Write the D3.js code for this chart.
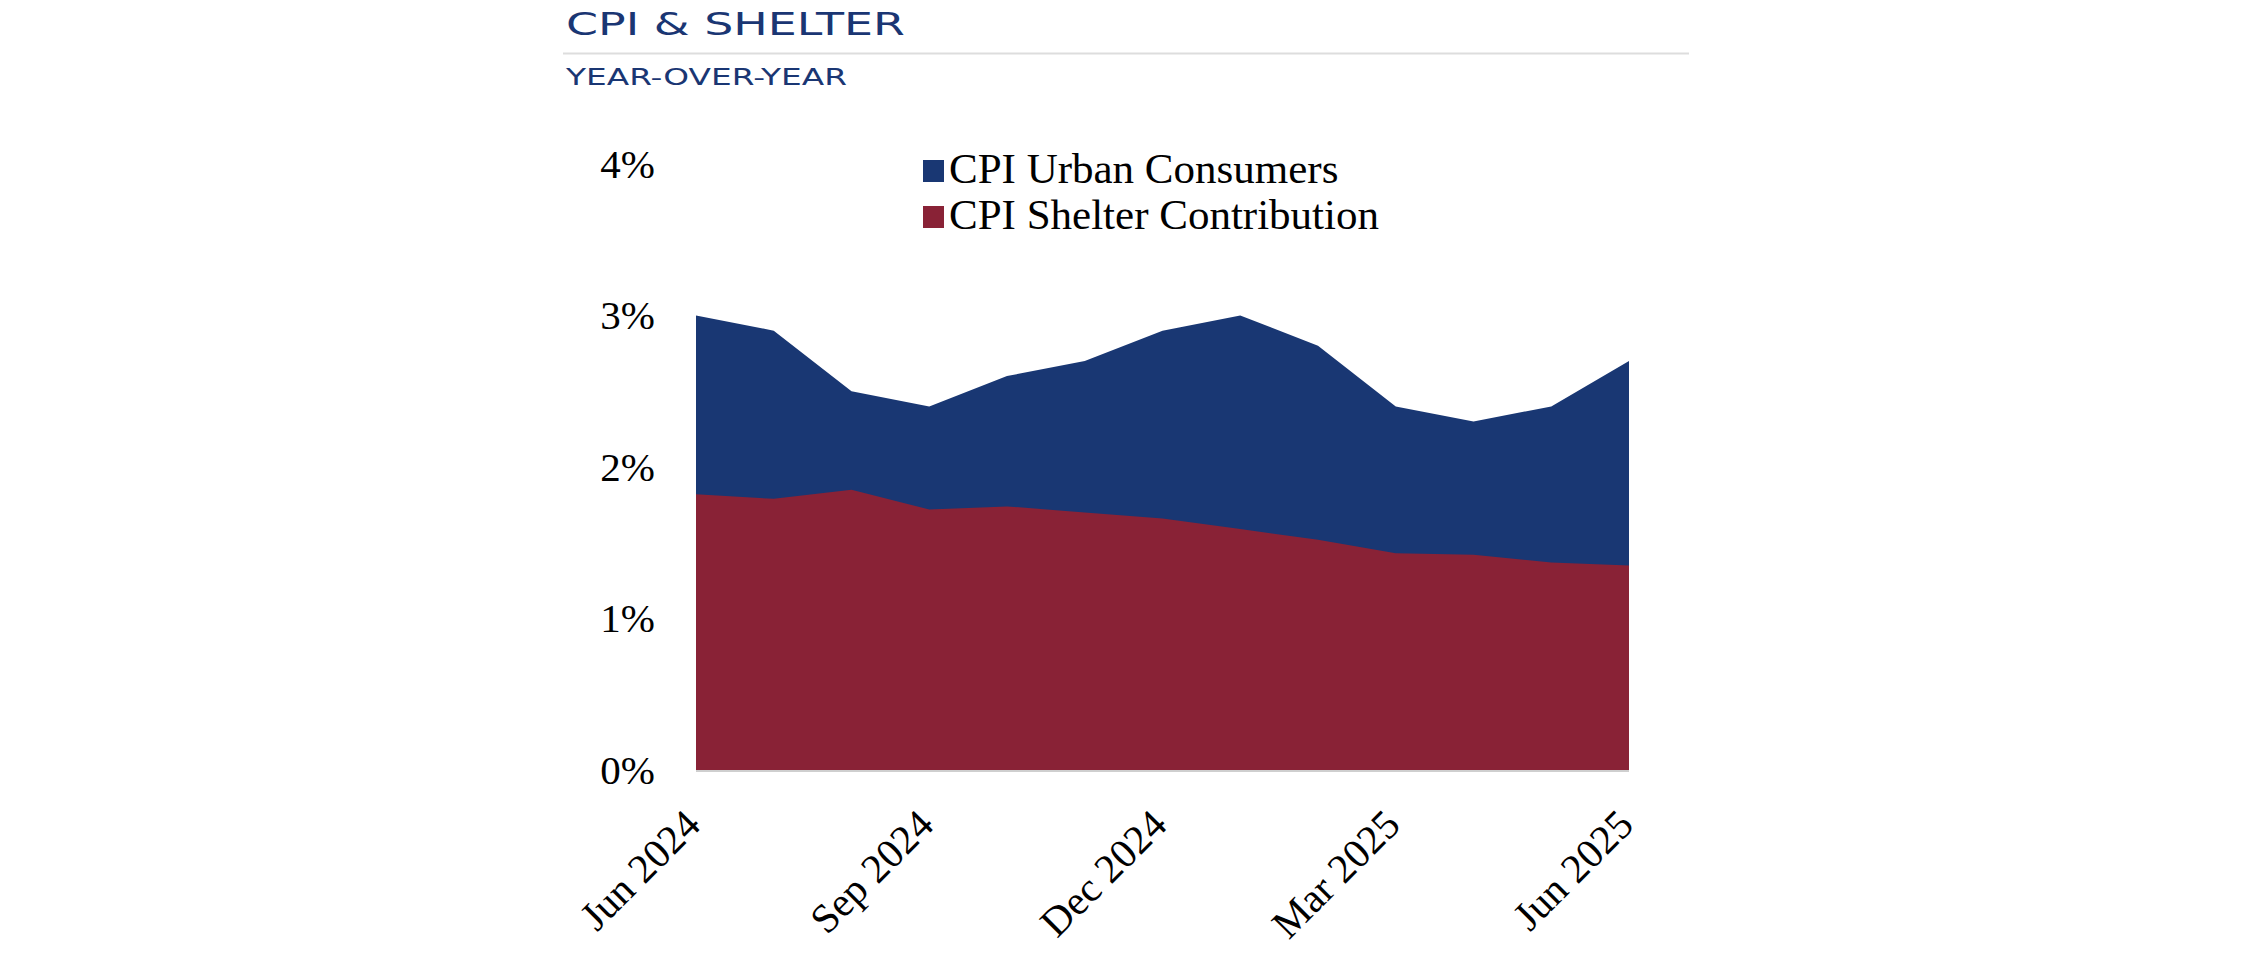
<!DOCTYPE html>
<html>
<head>
<meta charset="utf-8">
<script src="https://cdn.jsdelivr.net/npm/d3@7"></script>
<style>
  html, body { margin: 0; padding: 0; background: #fff; }
  svg { display: block; }
</style>
</head>
<body>
<div id="chart-container"></div>
<script>
// data
const months = [
  'Jun 2024', 'Jul 2024', 'Aug 2024', 'Sep 2024', 'Oct 2024', 'Nov 2024',
  'Dec 2024', 'Jan 2025', 'Feb 2025', 'Mar 2025', 'Apr 2025', 'May 2025', 'Jun 2025'
];
const cpiUrban = [3.0, 2.9, 2.5, 2.4, 2.6, 2.7, 2.9, 3.0, 2.8, 2.4, 2.3, 2.4, 2.7];
const shelterContribution = [1.82, 1.79, 1.85, 1.72, 1.74, 1.70, 1.66, 1.59, 1.52, 1.43, 1.42, 1.37, 1.35];
const yTicks = [0, 1, 2, 3, 4];
const xTickLabels = ['Jun 2024', 'Sep 2024', 'Dec 2024', 'Mar 2025', 'Jun 2025'];
const seriesNames = ['CPI Urban Consumers', 'CPI Shelter Contribution'];

//chart dimensions
const svgWidth = 2250;
const svgHeight = 960;
const plotLeft = 696;
const plotRight = 1629;
const plotBottom = 770;
const plotTop = 164;

const NAVY = '#1a3673';
const BLUE = '#193773';
const RED = '#892236';
const serif = '"Liberation Serif", "DejaVu Serif", serif';
const sans = '"DejaVu Sans", "Liberation Sans", sans-serif';

const svg = d3
  .select('#chart-container')
  .append('svg')
  .attr('width', svgWidth)
  .attr('height', svgHeight)
  .attr('viewBox', [0, 0, svgWidth, svgHeight]);

// header
svg
  .append('text')
  .attr('x', 566)
  .attr('y', 35)
  .attr('fill', NAVY)
  .attr('font-family', sans)
  .attr('font-size', 32)
  .attr('textLength', 339)
  .attr('lengthAdjust', 'spacingAndGlyphs')
  .text('CPI & SHELTER');

svg
  .append('line')
  .attr('x1', 563)
  .attr('x2', 1689)
  .attr('y1', 53.5)
  .attr('y2', 53.5)
  .attr('stroke', '#dddddd')
  .attr('stroke-width', 2);

svg
  .append('text')
  .attr('x', 566)
  .attr('y', 85)
  .attr('fill', NAVY)
  .attr('font-family', sans)
  .attr('font-size', 23)
  .attr('textLength', 281)
  .attr('lengthAdjust', 'spacingAndGlyphs')
  .text('YEAR-OVER-YEAR');

// scales
const xScale = d3.scalePoint().domain(months).range([plotLeft, plotRight]);
const yScale = d3.scaleLinear().domain([0, 4]).range([plotBottom, plotTop]);

const rows = months.map((m, i) => ({
  month: m,
  cpi: cpiUrban[i],
  shelter: shelterContribution[i],
}));

// areas (overlapping, not stacked)
const areaFor = (key) =>
  d3
    .area()
    .x((d) => xScale(d.month))
    .y0(yScale(0))
    .y1((d) => yScale(d[key]));

svg.append('path').datum(rows).attr('fill', BLUE).attr('d', areaFor('cpi'));
svg.append('path').datum(rows).attr('fill', RED).attr('d', areaFor('shelter'));

// baseline
svg
  .append('line')
  .attr('x1', plotLeft)
  .attr('x2', plotRight)
  .attr('y1', plotBottom + 1)
  .attr('y2', plotBottom + 1)
  .attr('stroke', '#cfcfcf')
  .attr('stroke-width', 2);

// y axis
svg
  .append('g')
  .attr('transform', `translate(${plotLeft},0)`)
  .call(
    d3
      .axisLeft(yScale)
      .tickValues(yTicks)
      .tickSize(0)
      .tickPadding(41)
      .tickFormat((d) => d + '%')
  )
  .call((g) => g.select('.domain').remove())
  .call((g) =>
    g
      .selectAll('text')
      .attr('font-family', serif)
      .attr('font-size', 41)
      .attr('fill', '#000')
  );

// x axis
svg
  .append('g')
  .attr('transform', `translate(0,${plotBottom})`)
  .call(d3.axisBottom(xScale).tickValues(xTickLabels).tickSize(0))
  .call((g) => g.select('.domain').remove())
  .call((g) =>
    g
      .selectAll('text')
      .attr('font-family', serif)
      .attr('font-size', 41)
      .attr('fill', '#000')
      .attr('x', 0)
      .attr('y', 0)
      .attr('dy', 0)
      .attr('text-anchor', 'end')
      .attr('transform', 'translate(6,57) rotate(-45)')
  );

// legend
const legend = svg
  .append('g')
  .selectAll('g')
  .data(seriesNames)
  .join('g')
  .attr('transform', (d, i) => `translate(923,${160 + i * 46})`);

legend
  .append('rect')
  .attr('width', 21)
  .attr('height', 22)
  .attr('fill', (d, i) => (i === 0 ? BLUE : RED));

legend
  .append('text')
  .attr('x', 26)
  .attr('y', 23)
  .attr('font-family', serif)
  .attr('font-size', 43)
  .attr('fill', '#000')
  .text((d) => d);
</script>
</body>
</html>
